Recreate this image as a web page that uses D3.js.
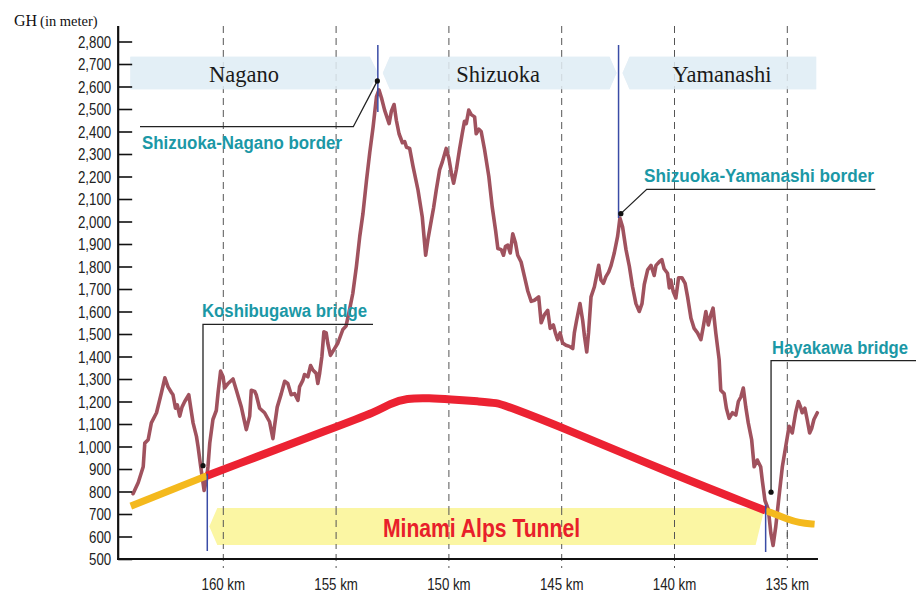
<!DOCTYPE html>
<html><head><meta charset="utf-8">
<script src="https://cdn.jsdelivr.net/npm/d3@7"></script>
<style>
body{margin:0;background:#fff;}
svg{display:block;}
</style></head><body>
<svg id="chart" width="916" height="592"></svg>
<script>
// ---------- data ----------
const profileKm = [164.00,163.77,163.55,163.48,163.33,163.19,162.96,162.74,162.59,162.45,162.30,162.23,162.12,162.04,161.93,161.83,161.71,161.53,161.44,161.34,161.19,161.12,161.00,160.85,160.75,160.68,160.60,160.46,160.31,160.23,160.12,160.01,159.94,159.79,159.57,159.42,159.20,159.08,158.98,158.83,158.76,158.61,158.54,158.39,158.17,157.95,157.80,157.73,157.61,157.43,157.28,157.14,156.99,156.84,156.69,156.62,156.47,156.40,156.25,156.13,156.03,155.88,155.81,155.73,155.63,155.54,155.44,155.37,155.25,155.07,154.92,154.70,154.56,154.41,154.26,154.10,153.95,153.81,153.65,153.51,153.36,153.21,153.10,152.99,152.85,152.65,152.55,152.43,152.33,152.21,152.06,151.96,151.88,151.74,151.59,151.37,151.18,151.03,150.93,150.78,150.68,150.56,150.41,150.29,150.12,150.00,149.89,149.79,149.67,149.53,149.41,149.31,149.23,149.12,149.01,148.86,148.79,148.67,148.57,148.42,148.23,148.08,147.93,147.83,147.68,147.58,147.49,147.39,147.28,147.17,147.05,146.95,146.80,146.65,146.50,146.35,146.21,146.02,145.91,145.77,145.62,145.51,145.37,145.28,145.18,145.07,144.96,144.81,144.66,144.51,144.44,144.34,144.19,144.07,143.99,143.89,143.81,143.70,143.55,143.36,143.26,143.15,143.04,142.92,142.81,142.67,142.52,142.42,142.30,142.15,142.00,141.86,141.71,141.56,141.44,141.34,141.19,141.04,140.90,140.82,140.68,140.56,140.46,140.31,140.23,140.16,140.06,139.94,139.82,139.67,139.53,139.42,139.27,139.13,138.98,138.83,138.72,138.61,138.50,138.39,138.29,138.17,138.02,137.95,137.80,137.70,137.58,137.43,137.28,137.17,137.06,136.95,136.84,136.73,136.58,136.47,136.33,136.18,136.11,135.99,135.84,135.73,135.63,135.51,135.37,135.22,135.07,134.92,134.78,134.63,134.51,134.41,134.34,134.22,134.12,134.01,133.92,133.82,133.67];
const profileElev = [790,840,910,1015,1030,1105,1150,1240,1305,1265,1240,1230,1170,1185,1135,1175,1200,1230,1170,1105,1045,1000,910,805,850,910,1015,1120,1160,1240,1335,1310,1260,1280,1300,1250,1175,1120,1075,1135,1250,1245,1230,1170,1150,1110,1035,1090,1175,1235,1290,1280,1230,1235,1205,1265,1295,1320,1310,1360,1340,1325,1280,1325,1400,1510,1505,1460,1405,1435,1460,1520,1535,1605,1680,1800,1935,2035,2185,2305,2420,2555,2585,2550,2495,2435,2490,2520,2450,2390,2350,2355,2330,2325,2245,2140,2020,1850,1920,2005,2060,2140,2230,2265,2325,2280,2215,2170,2230,2320,2390,2445,2435,2495,2475,2465,2390,2410,2400,2320,2200,2065,1960,1880,1875,1850,1890,1895,1860,1945,1905,1850,1820,1755,1690,1645,1650,1665,1550,1585,1605,1525,1540,1505,1475,1505,1460,1450,1445,1435,1505,1560,1635,1560,1490,1420,1505,1665,1710,1805,1740,1725,1755,1775,1805,1860,1935,2015,1975,1875,1800,1710,1635,1600,1635,1720,1785,1805,1760,1805,1820,1830,1790,1770,1705,1740,1690,1660,1750,1750,1725,1665,1570,1525,1505,1475,1535,1600,1540,1585,1615,1505,1385,1250,1235,1170,1125,1150,1140,1200,1220,1260,1175,1105,1030,910,940,910,850,760,720,615,560,645,775,910,1000,1090,1060,1150,1200,1175,1150,1170,1120,1060,1080,1120,1150];

const approachWestKm = [164.10,160.73];
const approachWestElev = [735,870];
const tunnelKm = [160.73,160.00,154.98,153.21,152.62,151.88,150.85,149.97,148.64,147.89,147.31,145.10,140.04,135.96];
const tunnelElev = [870,898,1088,1155,1190,1215,1215,1210,1200,1195,1175,1090,875,715];
const approachEastKm = [135.96,135.55,135.07,134.48,133.79];
const approachEastElev = [715,700,680,660,655];

const prefectures = ["Nagano","Shizuoka","Yamanashi"];
const prefStartKm = [164.12,153.15,142.48];
const prefEndKm = [153.15,142.48,133.72];

const yTicks = [500,600,700,800,900,1000,1100,1200,1300,1400,1500,1600,1700,1800,1900,2000,2100,2200,2300,2400,2500,2600,2700,2800];
const xTicks = [160,155,150,145,140,135];
const xTickLabels = ["160 km","155 km","150 km","145 km","140 km","135 km"];

const borderNames = ["Shizuoka-Nagano border","Shizuoka-Yamanashi border"];
const borderKm = [153.15,142.48];
const borderElev = [2625,2035];
const bridgeNames = ["Koshibugawa bridge","Hayakawa bridge"];
const bridgeKm = [160.90,135.72];
const bridgeElev = [915,797];
const portalKm = [160.71,135.96];
const tunnelName = "Minami Alps Tunnel";

// ---------- scales ----------
const svg = d3.select("#chart");
const x = d3.scaleLinear().domain([160,135]).range([223.3,787.3]);
const y = d3.scaleLinear().domain([500,2800]).range([559,41.5]);
const X0 = x(164.66), X1 = x(133.64);

const sans = '"Liberation Sans",Arial,sans-serif';
const serif = '"Liberation Serif","Times New Roman",serif';
const SQ = 0.83; // horizontal squeeze to mimic condensed type

// header bands
const bandTop = 56.7, bandBot = 89.3, bandMid = (bandTop+bandBot)/2;
function bandPts(i){
  const a = x(prefStartKm[i]), b = x(prefEndKm[i]);
  if(i===0) return [[a,bandTop],[b-8,bandTop],[b,bandMid],[b-8,bandBot],[a,bandBot]];
  if(i===1) return [[a+5,bandMid],[a+12,bandTop],[b-9,bandTop],[b-2,bandMid],[b-9,bandBot],[a+12,bandBot]];
  return [[a+4,bandMid],[a+11,bandTop],[b,bandTop],[b,bandBot],[a+11,bandBot]];
}
prefectures.forEach((p,i)=>{
  svg.append("polygon").attr("points",bandPts(i).map(d=>d.join(",")).join(" ")).attr("fill","#e3eef6");
});

// gridlines
svg.append("g").selectAll("line").data(xTicks).join("line")
  .attr("x1",d=>x(d)).attr("x2",d=>x(d)).attr("y1",26).attr("y2",568)
  .attr("stroke","#555").attr("stroke-width",1).attr("stroke-dasharray","7,5");

prefectures.forEach((p,i)=>{
  svg.append("polygon").attr("points",bandPts(i).map(d=>d.join(",")).join(" "))
    .attr("fill","#e3eef6").attr("opacity",0.85);
  const cx = i===0 ? 244 : (i===1 ? 498 : 722);
  svg.append("text").attr("x",cx).attr("y",81.5).attr("text-anchor","middle")
    .attr("font-family",serif).attr("font-size",22.5).attr("fill","#1a1a1a").text(p);
});

// tunnel band (pale yellow arrow)
const tA = x(portalKm[0]), tB = x(portalKm[1]);
const tTop = 508, tBot = 545;
svg.append("polygon")
  .attr("points",[[tA+2,526.5],[tA+10,tTop],[tB-1,tTop],[tB-10,tBot],[tA+10,tBot]].map(d=>d.join(",")).join(" "))
  .attr("fill","#fbf6a3");
svg.append("g").selectAll("line").data(xTicks).join("line")
  .attr("x1",d=>x(d)).attr("x2",d=>x(d)).attr("y1",tTop).attr("y2",tBot)
  .attr("stroke","#555").attr("stroke-width",1).attr("stroke-dasharray","7,5");

svg.append("text").attr("x",383).attr("y",536.5)
  .attr("font-family",sans).attr("font-weight","bold").attr("font-size",25)
  .attr("fill","#e8202a").attr("textLength",197).attr("lengthAdjust","spacingAndGlyphs")
  .text(tunnelName);

// profile
const prof = profileKm.map((k,i)=>[k,profileElev[i]]);
const line = d3.line().x(d=>x(d[0])).y(d=>y(d[1]));
svg.append("path").attr("d",line(prof)).attr("fill","none")
  .attr("stroke","#a0525e").attr("stroke-width",3.6).attr("stroke-linejoin","round").attr("stroke-linecap","round");

// tunnel lines
const sline = d3.line().x(d=>x(d[0])).y(d=>y(d[1])).curve(d3.curveBasis);
svg.append("path").attr("d",sline(approachWestKm.map((k,i)=>[k,approachWestElev[i]])))
  .attr("fill","none").attr("stroke","#f4b91d").attr("stroke-width",7);
svg.append("path").attr("d",sline(approachEastKm.map((k,i)=>[k,approachEastElev[i]])))
  .attr("fill","none").attr("stroke","#f4b91d").attr("stroke-width",7);
svg.append("path").attr("d",sline(tunnelKm.map((k,i)=>[k,tunnelElev[i]])))
  .attr("fill","none").attr("stroke","#ec2232").attr("stroke-width",8);

// blue border / portal lines
const blue = "#3a4ca6";
[[borderKm[0],45,112],[borderKm[1],45,218],[portalKm[0],y(870)-2,551],[portalKm[1],y(715)-6,552]].forEach(d=>{
  svg.append("line").attr("x1",x(d[0])).attr("x2",x(d[0])).attr("y1",d[1]).attr("y2",d[2])
    .attr("stroke",blue).attr("stroke-width",1.5);
});

// axes
const yAxis = d3.axisLeft(y).tickValues(yTicks).tickFormat(d3.format(",")).tickSize(-14).tickPadding(8);
const gy = svg.append("g").attr("transform",`translate(${X0},0)`).call(yAxis);
gy.select(".domain").remove();
gy.selectAll(".tick line").attr("stroke","#111").attr("stroke-width",1.6);
gy.selectAll(".tick text").attr("font-family",sans).attr("font-size",16).attr("fill","#222")
  .attr("dy","0.36em").attr("x",0).attr("transform",`translate(-7,0) scale(${SQ},1)`);
svg.append("line").attr("x1",X0).attr("x2",X0).attr("y1",26).attr("y2",560).attr("stroke","#111").attr("stroke-width",2.2);
svg.append("line").attr("x1",X0-1).attr("x2",X1).attr("y1",559).attr("y2",559).attr("stroke","#111").attr("stroke-width",2.2);

svg.append("g").selectAll("text").data(xTicks).join("text")
  .attr("transform",d=>`translate(${x(d)},589.5) scale(${SQ},1)`).attr("text-anchor","middle")
  .attr("font-family",sans).attr("font-size",16).attr("fill","#222")
  .text((d,i)=>xTickLabels[i]);

// axis title
const t = svg.append("text").attr("x",14).attr("y",26).attr("font-family",serif).attr("fill","#111");
t.append("tspan").attr("font-size",16).text("GH");
t.append("tspan").attr("font-size",14.5).attr("dx",3).text("(in meter)");

// annotations
const teal = "#1b98a6";
const lead = (pts)=>svg.append("polyline").attr("points",pts.map(d=>d.join(",")).join(" "))
  .attr("fill","none").attr("stroke","#222").attr("stroke-width",1.3);
const dot = (px,py)=>svg.append("circle").attr("cx",px).attr("cy",py).attr("r",2.6).attr("fill","#111");
const label = (txt,px,py,len)=>svg.append("text").attr("x",px).attr("y",py)
  .attr("font-family",sans).attr("font-weight","bold").attr("font-size",17.5).attr("fill",teal)
  .attr("textLength",len).attr("lengthAdjust","spacingAndGlyphs").text(txt);

{
  const px = x(borderKm[0]) - 0.5, py = y(borderElev[0]);
  lead([[px,py],[353.3,126.7],[140,126.7]]); dot(px,py);
  label(borderNames[0],142,149,200);
}
{
  const px = x(borderKm[1]) + 2.3, py = y(borderElev[1]);
  lead([[px,py],[646.7,189.3],[875.3,189.3]]); dot(px,py);
  label(borderNames[1],644,181.5,230);
}
{
  const px = x(bridgeKm[0]), py = y(bridgeElev[0]);
  lead([[px,py],[px,324.3],[373,324.3]]); dot(px,py);
  label(bridgeNames[0],202,316.5,165);
}
{
  const px = x(bridgeKm[1]), py = y(bridgeElev[1]);
  lead([[px,py],[px,360.7],[916,360.7]]); dot(px,py);
  label(bridgeNames[1],772,353.5,136);
}
</script>
</body></html>
